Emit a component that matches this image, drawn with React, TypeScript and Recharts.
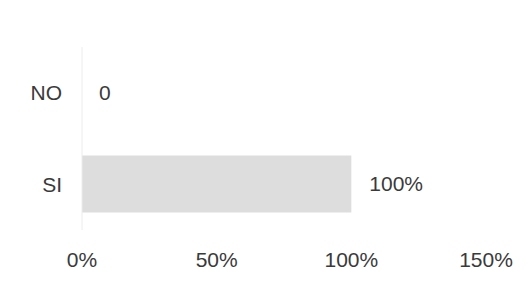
import React from "react";
import { BarChart, Bar, XAxis, YAxis, LabelList, ReferenceDot } from "recharts";

const categories = ["NO", "SI"];
const values = [0, 1];
const xTicks = [0, 0.5, 1, 1.5];

const data = categories.map((c, i) => ({ name: c, value: values[i] }));

const pct = (v: number) => `${Math.round(v * 100)}%`;
const barLabel = (v: any) => (Number(v) === 0 ? "0" : pct(Number(v)));

const font = { fontFamily: "Liberation Sans, Arial, sans-serif", fontSize: 21, fill: "#3a3a3a" };

export default function App() {
  return (
    <div style={{ width: 530, height: 283, background: "#fff" }}>
      <style>{`body{margin:0}`}</style>
      <BarChart
        width={530}
        height={283}
        data={data}
        layout="vertical"
        margin={{ top: 47, right: 44, left: 0, bottom: 0 }}
      >
        <XAxis
          type="number"
          domain={[0, 1.5]}
          ticks={xTicks}
          tickFormatter={pct}
          axisLine={false}
          tickLine={false}
          tickMargin={16}
          height={53}
          tick={font}
        />
        <YAxis
          type="category"
          dataKey="name"
          width={82}
          axisLine={{ stroke: "#ececec" }}
          tickLine={false}
          tickMargin={14}
          tick={font}
        />
        <Bar dataKey="value" fill="#dddddd" barSize={57} isAnimationActive={false}>
          <LabelList dataKey="value" position="right" offset={18} formatter={barLabel} style={font} />
        </Bar>
        {data
          .filter((d) => d.value === 0)
          .map((d) => (
            <ReferenceDot
              key={d.name}
              x={d.value}
              y={d.name}
              r={0}
              fill="none"
              stroke="none"
              label={{ value: barLabel(d.value), position: "right", offset: 17, style: font }}
            />
          ))}
      </BarChart>
    </div>
  );
}
